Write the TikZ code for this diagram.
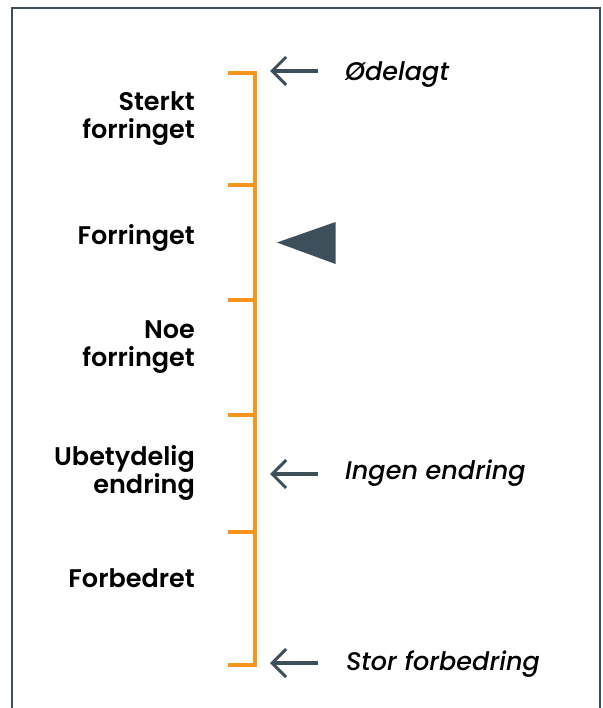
\documentclass[tikz,border=0pt]{standalone}
\usepackage{fontspec}
\setmainfont{Poppins}[UprightFont={* Medium},BoldFont={* SemiBold},ItalicFont={* Medium Italic},BoldItalicFont={* SemiBold Italic}]
\usetikzlibrary{arrows.meta}
\definecolor{slate}{HTML}{3D4F5A}
\definecolor{amber}{HTML}{F7941D}
\begin{document}
\begin{tikzpicture}[x=1pt,y=-1pt,
  scalebar/.style={draw=amber,line width=4pt},
  pointer/.style={draw=slate,line width=3.5pt,-{Straight Barb[length=14pt,width=28pt,line width=3pt]}},
  levellabel/.style={font=\bfseries\fontsize{25.5}{27.5}\selectfont,align=right,anchor=base east,inner sep=0pt},
  statelabel/.style={font=\itshape\fontsize{25.5}{27}\selectfont,anchor=base west,inner sep=0pt}]
\useasboundingbox (0,0) rectangle (602,708);
\draw[slate,line width=2pt] (12,720) -- (12,8) -- (600,8) -- (600,720);
% scale
\coordinate (t0) at (255,73);
\coordinate (t5) at (255,665);
\draw[scalebar] (228,73) -- (t0) -- (t5) -- (228,665);
\foreach \yy/\nm in {185/t1,300/t2,415/t3,532/t4}{
  \coordinate (\nm) at (255,\yy);
  \draw[scalebar] (228,\yy) -- (\nm);
}
% level labels (anchor = baseline of the last line)
\node[levellabel] (l1) at (195,138.5) {Sterkt\\forringet};
\node[levellabel] (l2) at (195,244) {Forringet};
\node[levellabel] (l3) at (195,366) {Noe\\forringet};
\node[levellabel] (l4) at (195,493) {Ubetydelig\\endring};
\node[levellabel] (l5) at (195,587) {Forbedret};
% state labels with arrows
\node[statelabel] (s1) at (345,81) {Ødelagt};
\node[statelabel] (s2) at (345,479) {Ingen endring};
\node[statelabel] (s3) at (346,670) {Stor forbedring};
\coordinate (a1) at (270,71);
\coordinate (a2) at (270,474);
\coordinate (a3) at (270,663);
\draw[pointer] ([xshift=-27pt]s1.west |- a1) -- (a1);
\draw[pointer] ([xshift=-27pt]s2.west |- a2) -- (a2);
\draw[pointer] ([xshift=-28pt]s3.west |- a3) -- (a3);
% current marker
\fill[slate] (277,242.5) -- (335.5,222) -- (335.5,264) -- cycle;
\end{tikzpicture}
\end{document}
